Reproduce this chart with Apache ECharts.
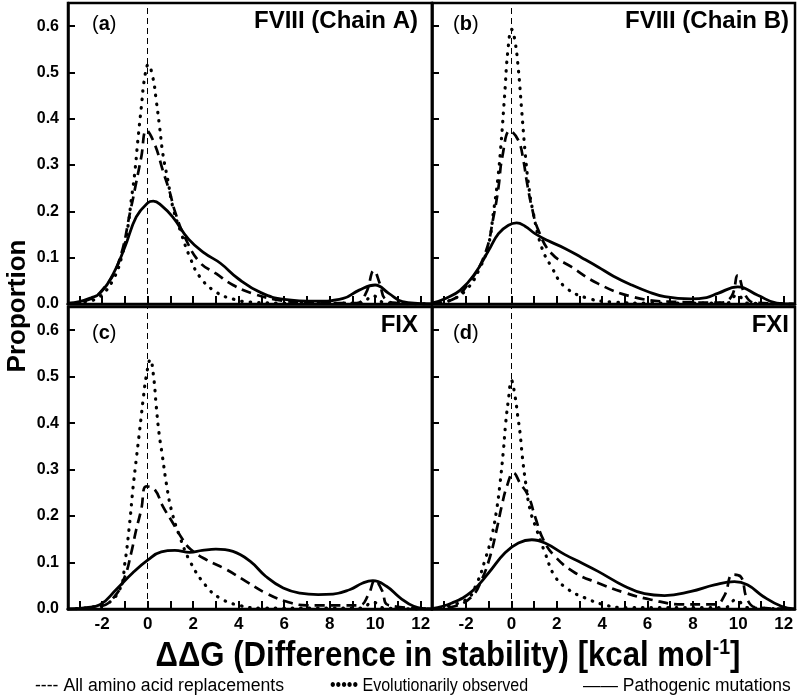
<!DOCTYPE html>
<html>
<head>
<meta charset="utf-8">
<script src="https://cdn.jsdelivr.net/npm/echarts@6/dist/echarts.min.js"></script>
<style>html,body{margin:0;padding:0;background:#fff}#c{width:800px;height:700px}</style>
</head>
<body>
<div id="c"></div>
<script>
// ---- tick values ----
const X_TICKS = [-3,-2,-1,0,1,2,3,4,5,6,7,8,9,10,11,12];
const X_LABELS = [-2,0,2,4,6,8,10,12];
const Y_TICKS = [0,0.1,0.2,0.3,0.4,0.5,0.6];

// ---- panel titles ----
const PANEL_LETTERS = ['a','b','c','d'];
const PANEL_NAMES = ['FVIII (Chain A)','FVIII (Chain B)','FIX','FXI'];
const SERIES_NAMES = ['All amino acid replacements','Evolutionarily observed','Pathogenic mutations'];

// ---- Panel (a) FVIII chain A ----
const A_ALL = [[-3.5,0],[-2.6,0.009],[-2.0,0.03],[-1.3,0.087],[-0.72,0.21],[-0.5,0.263],[-0.28,0.317],[-0.05,0.375],[0.31,0.345],[0.67,0.288],[0.97,0.242],[1.2,0.2],[1.63,0.145],[2.29,0.09],[3.0,0.066],[3.75,0.041],[4.6,0.023],[5.7,0.009],[7,0.003],[9.2,0.002],[9.6,0.024],[9.95,0.072],[10.2,0.045],[10.45,0.01],[11,0.002],[12.5,0]];
const A_EVO = [[-3.5,0],[-2.6,0.006],[-2.1,0.016],[-1.52,0.052],[-1.1,0.109],[-0.87,0.166],[-0.72,0.224],[-0.57,0.281],[-0.43,0.353],[-0.28,0.424],[-0.13,0.489],[0.03,0.517],[0.23,0.489],[0.38,0.439],[0.53,0.381],[0.67,0.324],[0.89,0.267],[1.11,0.209],[1.48,0.152],[1.85,0.102],[2.29,0.059],[3.0,0.026],[3.8,0.01],[4.5,0.004],[6,0.002],[9.4,0.002],[9.9,0.018],[10.4,0.003],[12.5,0]];
const A_PATH = [[-3.5,0.002],[-3,0.005],[-2.5,0.013],[-2.1,0.023],[-1.5,0.066],[-1,0.123],[-0.5,0.188],[0,0.218],[0.25,0.222],[0.6,0.213],[1.1,0.188],[1.8,0.14],[2.5,0.11],[3.2,0.088],[4.0,0.054],[5.0,0.024],[6.0,0.01],[7.4,0.006],[8.6,0.012],[9.3,0.03],[10.0,0.041],[10.6,0.023],[11.2,0.005],[12,0.001],[12.5,0]];

// ---- Panel (b) FVIII chain B ----
const B_ALL = [[-3.5,0.001],[-2.62,0.009],[-1.9,0.044],[-1.16,0.109],[-0.79,0.188],[-0.57,0.252],[-0.4,0.318],[-0.06,0.374],[0.31,0.353],[0.53,0.31],[0.67,0.267],[0.9,0.209],[1.19,0.159],[1.77,0.109],[2.65,0.08],[3.82,0.044],[5.3,0.016],[7.0,0.005],[9.2,0.003],[9.7,0.016],[9.98,0.062],[10.3,0.02],[10.7,0.003],[12.5,0]];
const B_EVO = [[-3.5,0],[-2.8,0.006],[-2.0,0.03],[-1.37,0.08],[-1.0,0.13],[-0.8,0.195],[-0.6,0.27],[-0.45,0.35],[-0.3,0.45],[-0.15,0.55],[0.01,0.593],[0.15,0.57],[0.3,0.51],[0.45,0.42],[0.6,0.33],[0.75,0.26],[0.95,0.2],[1.33,0.123],[1.77,0.08],[2.36,0.037],[3.4,0.012],[4.6,0.004],[6,0.002],[9.5,0.002],[9.95,0.02],[10.4,0.002],[12.5,0]];
const B_PATH = [[-3.5,0.002],[-2.9,0.012],[-2.25,0.03],[-1.6,0.066],[-1.0,0.116],[-0.57,0.152],[-0.13,0.17],[0.23,0.175],[0.6,0.168],[1.04,0.152],[1.6,0.137],[2.36,0.12],[3.1,0.1],[3.82,0.08],[4.5,0.06],[5.3,0.041],[6.0,0.027],[6.76,0.016],[7.9,0.011],[8.6,0.014],[9.1,0.023],[9.98,0.037],[10.86,0.019],[11.7,0.002],[12.5,0]];

// ---- Panel (c) FIX ----
const C_ALL = [[-3.5,0],[-2.1,0.005],[-1.45,0.027],[-1.0,0.07],[-0.72,0.121],[-0.5,0.171],[-0.28,0.214],[-0.06,0.264],[0.31,0.257],[0.67,0.221],[1.11,0.185],[1.55,0.149],[1.9,0.128],[2.58,0.106],[3.46,0.085],[4.34,0.059],[5.2,0.034],[6.1,0.016],[7,0.008],[9.3,0.008],[9.7,0.03],[10.0,0.062],[10.3,0.04],[10.6,0.008],[12.5,0]];
const C_EVO = [[-3.5,0],[-1.9,0.01],[-1.23,0.042],[-1.0,0.099],[-0.79,0.185],[-0.65,0.257],[-0.5,0.322],[-0.38,0.372],[-0.28,0.415],[-0.18,0.458],[-0.06,0.501],[0.12,0.537],[0.26,0.501],[0.38,0.436],[0.5,0.379],[0.65,0.329],[0.82,0.271],[1.04,0.214],[1.41,0.156],[1.9,0.099],[2.58,0.049],[3.16,0.024],[4.0,0.008],[5,0.002],[9.4,0.002],[9.9,0.015],[10.4,0.002],[12.5,0]];
const C_PATH = [[-3.5,0],[-2.7,0.003],[-2.1,0.009],[-1.38,0.042],[-0.65,0.078],[0,0.105],[0.6,0.123],[1.2,0.126],[1.85,0.122],[2.4,0.126],[3.0,0.129],[3.75,0.124],[4.5,0.103],[5.2,0.07],[5.96,0.045],[6.7,0.034],[7.5,0.031],[8.15,0.032],[8.9,0.042],[9.46,0.056],[9.9,0.061],[10.5,0.049],[11.1,0.024],[11.7,0.006],[12.5,0]];

// ---- Panel (d) FXI ----
const D_ALL = [[-3.5,0],[-2.5,0.006],[-1.74,0.027],[-1.31,0.063],[-0.94,0.113],[-0.65,0.171],[-0.43,0.221],[-0.2,0.264],[0.09,0.293],[0.38,0.271],[0.75,0.243],[1.04,0.199],[1.41,0.149],[1.92,0.113],[2.8,0.078],[3.82,0.056],[5.0,0.035],[6.16,0.02],[7.5,0.01],[9.0,0.01],[9.4,0.03],[9.75,0.074],[10.1,0.07],[10.4,0.02],[10.8,0.003],[12.5,0]];
const D_EVO = [[-3.5,0],[-2.0,0.02],[-1.52,0.056],[-1.16,0.106],[-0.87,0.156],[-0.65,0.214],[-0.5,0.271],[-0.35,0.343],[-0.25,0.401],[-0.13,0.451],[0,0.492],[0.16,0.458],[0.28,0.415],[0.38,0.379],[0.48,0.329],[0.63,0.271],[0.82,0.214],[1.11,0.171],[1.48,0.121],[1.92,0.07],[2.51,0.042],[3.24,0.024],[4.1,0.009],[5,0.003],[9.4,0.003],[9.9,0.02],[10.4,0.003],[12.5,0]];
const D_PATH = [[-3.5,0.001],[-2.62,0.013],[-1.74,0.038],[-1.0,0.078],[-0.28,0.121],[0.31,0.142],[0.9,0.149],[1.48,0.142],[2.36,0.117],[3.1,0.099],[3.82,0.081],[4.99,0.049],[5.87,0.033],[6.75,0.029],[7.92,0.038],[8.95,0.052],[9.83,0.059],[10.4,0.052],[11.1,0.027],[11.9,0.006],[12.5,0]];

const PANELS = [[A_ALL,A_EVO,A_PATH],[B_ALL,B_EVO,B_PATH],[C_ALL,C_EVO,C_PATH],[D_ALL,D_EVO,D_PATH]];

const SANS = "'Liberation Sans',Arial,sans-serif";

const GRIDS = [
  {left:68, top:3, width:364, height:301},
  {left:432, top:3, width:363, height:301},
  {left:68, top:307, width:364, height:302},
  {left:432, top:307, width:363, height:302}
];

const chart = echarts.init(document.getElementById('c'), null, {renderer:'canvas'});

const grid = GRIDS.map(g => Object.assign({show:true, borderColor:'#000', borderWidth:2.5, backgroundColor:'transparent'}, g));
const xAxis = GRIDS.map((g,i) => ({
  type:'value', gridIndex:i, min:-3.5, max:12.5,
  splitLine:{show:false},
  axisLine:{show:true, onZero:false, lineStyle:{color:'#000', width:2.5}},
  axisTick:{show:true, inside:true, length:8, customValues:X_TICKS, lineStyle:{color:'#000', width:2}},
  axisLabel:{show:i>=2, customValues:X_LABELS, margin:7, color:'#000', fontFamily:SANS, fontWeight:'bold', fontSize:17}
}));
const yAxis = GRIDS.map((g,i) => ({
  type:'value', gridIndex:i, min:0, max:0.65,
  splitLine:{show:false},
  axisLine:{show:true, onZero:false, lineStyle:{color:'#000', width:2.5}},
  axisTick:{show:true, inside:true, length:7, customValues:Y_TICKS, lineStyle:{color:'#000', width:2}},
  axisLabel:{show:i%2===0, customValues:Y_TICKS, margin:9, color:'#000', fontFamily:SANS, fontWeight:'bold', fontSize:16,
    formatter:v=>v.toFixed(1)}
}));

const STYLES = [
  {type:[10,6], width:2.7, cap:'butt'},
  {type:[0.5,8], width:3.2, cap:'round'},
  {type:'solid', width:2.8, cap:'butt'}
];

const series = [];
PANELS.forEach((p,i) => {
  p.forEach((d,k) => {
    const s = {
      type:'line', name:SERIES_NAMES[k], xAxisIndex:i, yAxisIndex:i, data:d,
      symbol:'none', smooth:0.45, silent:true,
      lineStyle:Object.assign({color:'#000'}, STYLES[k]), z:3
    };
    if (k===0) {
      s.markLine = {silent:true, symbol:'none', label:{show:false}, animation:false,
        lineStyle:{color:'#000', width:1, type:[6,4]}, data:[{xAxis:0}]};
    }
    series.push(s);
  });
});

const graphic = [];
GRIDS.forEach((g,i) => {
  graphic.push({type:'text', left:(i%2===0?92:453), top:(i<2? g.top+11 : g.top+16),
    style:{text:'{p|(}{l|'+PANEL_LETTERS[i]+'}{p|)}', rich:{
      p:{fontFamily:SANS, fontSize:20, fontWeight:'normal', fill:'#000'},
      l:{fontFamily:SANS, fontSize:20, fontWeight:'bold', fill:'#000'}}}});
  graphic.push({type:'text', right:(i%2===0? 800-418 : 800-789), top:(g.top+6),
    style:{text:PANEL_NAMES[i], fontFamily:SANS, fontSize:24, fontWeight:'bold', fill:'#000', textAlign:'right'}});
});
graphic.push({type:'text', x:18, y:306, rotation:Math.PI/2,
  style:{text:'Proportion', fontFamily:SANS, fontSize:26, fontWeight:'bold', fill:'#000', align:'center', verticalAlign:'middle'}});
graphic.push({type:'text', x:448, y:655, scaleX:0.89,
  style:{text:'{m|ΔΔG (Difference in stability) [kcal mol}{s|-1}{m|]}', align:'center', verticalAlign:'middle',
    rich:{m:{fontFamily:SANS, fontSize:35, fontWeight:'bold', fill:'#000', verticalAlign:'bottom'},
          s:{fontFamily:SANS, fontSize:22, fontWeight:'bold', fill:'#000', verticalAlign:'bottom', padding:[0,0,15,0]}}}});
const LEG_X = [35, 330, 583];
const LEG_SCALE = [0.98, 0.89, 0.97];
const LEG_SYM = ['----', '•••••', '——'];
LEG_X.forEach((x,k) => {
  graphic.push({type:'text', x:x, y:686, scaleX:LEG_SCALE[k],
    style:{text:LEG_SYM[k]+' '+SERIES_NAMES[k], fontFamily:SANS, fontSize:18, fill:'#000', verticalAlign:'middle'}});
});

chart.setOption({animation:false, backgroundColor:'#fff', grid, xAxis, yAxis, series, graphic});
</script>
</body>
</html>
